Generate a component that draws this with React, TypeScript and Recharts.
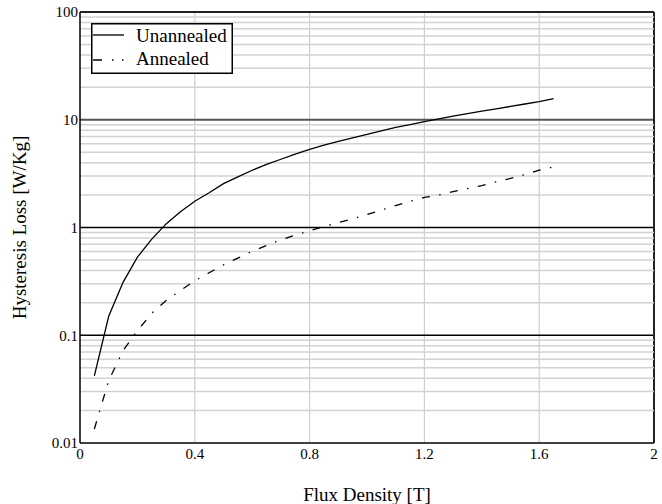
import React from 'react';
import { LineChart, Line, XAxis, YAxis, CartesianGrid, Legend, Label, ReferenceLine } from 'recharts';

// Flux density sample points [T]
const flux = [
  0.05, 0.1, 0.15, 0.2, 0.25, 0.3, 0.35, 0.4, 0.45, 0.5, 0.55, 0.6, 0.65, 0.7, 0.75, 0.8, 0.85,
  0.9, 0.95, 1.0, 1.05, 1.1, 1.15, 1.2, 1.25, 1.3, 1.35, 1.4, 1.45, 1.5, 1.55, 1.6, 1.65,
];

// Hysteresis loss [W/Kg]
const unannealed = [
  0.042, 0.15, 0.31, 0.53, 0.78, 1.08, 1.4, 1.75, 2.1, 2.55, 2.95, 3.4, 3.85, 4.3, 4.8, 5.3, 5.8,
  6.3, 6.8, 7.3, 7.9, 8.5, 9.0, 9.6, 10.2, 10.8, 11.4, 12.0, 12.6, 13.3, 14.0, 14.7, 15.7,
];
const annealed = [
  0.0135, 0.038, 0.072, 0.11, 0.16, 0.21, 0.26, 0.32, 0.38, 0.45, 0.52, 0.6, 0.68, 0.77, 0.85,
  0.93, 1.02, 1.11, 1.2, 1.32, 1.45, 1.6, 1.75, 1.9, 2.0, 2.15, 2.3, 2.45, 2.65, 2.85, 3.1, 3.4, 3.65,
];

const xTicks = [0, 0.4, 0.8, 1.2, 1.6, 2];
const yTicks = [0.01, 0.1, 1, 10, 100];
const xGrid = [0.4, 0.8, 1.2, 1.6];

// light lines at 2..9 inside every decade
const minorGrid: number[] = [];
[0.01, 0.1, 1, 10].forEach((d) => {
  for (let m = 2; m <= 9; m++) minorGrid.push(Number((d * m).toPrecision(3)));
});

const data = flux.map((b, i) => ({ flux: b, unannealed: unannealed[i], annealed: annealed[i] }));

const serif = '"Liberation Serif", "Times New Roman", serif';
const dashDot = '8 9.5 1.5 9.5';

const LegendBox = () => (
  <svg width={142} height={51} style={{ display: 'block' }}>
    <rect x={0.75} y={0.75} width={140.5} height={49.5} fill="#fff" stroke="#000" strokeWidth={1.5} />
    <line x1={2} y1={12} x2={33} y2={12} stroke="#000" strokeWidth={1.3} />
    <text x={45} y={18.5} fontSize={19} fill="#000">Unannealed</text>
    <line x1={2} y1={37} x2={33} y2={37} stroke="#000" strokeWidth={1.3} strokeDasharray="9 10 1.5 8.5 1.5 10" />
    <text x={45} y={42} fontSize={19} fill="#000">Annealed</text>
  </svg>
);

export default function App() {
  return (
    <div className="loss-chart" style={{ position: 'absolute', left: 0, top: 0, background: '#fff', fontFamily: serif }}>
      <style>{`.loss-chart svg text { font-family: ${serif}; }`}</style>
      <LineChart width={662} height={504} data={data} margin={{ top: 12, right: 8, left: 10, bottom: 31 }}>
        <CartesianGrid stroke="#cfcfcf" strokeWidth={1.2} horizontal={false} verticalValues={xGrid} />
        {minorGrid.map((v) => (
          <ReferenceLine key={v} y={v} stroke="#d2d2d2" strokeWidth={1.5} />
        ))}
        <CartesianGrid stroke="#000" strokeWidth={1.3} vertical={false} horizontalValues={[0.1, 1]} />
        <CartesianGrid stroke="#555" strokeWidth={2} vertical={false} horizontalValues={[10]} />
        <CartesianGrid stroke="#222" strokeWidth={2} horizontalValues={[100]} verticalValues={[2]} />
        <XAxis
          dataKey="flux"
          type="number"
          domain={[0, 2]}
          ticks={xTicks}
          tickSize={0}
          tickMargin={5}
          height={30}
          axisLine={{ stroke: '#000', strokeWidth: 1.5 }}
          tick={{ fill: '#000', fontSize: 15 }}
        >
          <Label value="Flux Density [T]" position="bottom" offset={15} fill="#000" fontSize={19} />
        </XAxis>
        <YAxis
          scale="log"
          domain={[0.01, 100]}
          allowDataOverflow
          ticks={yTicks}
          width={70}
          tickSize={0}
          tickMargin={2}
          axisLine={{ stroke: '#000', strokeWidth: 1.5 }}
          tick={{ fill: '#000', fontSize: 15 }}
        >
          <Label
            value="Hysteresis Loss [W/Kg]"
            angle={-90}
            position="insideLeft"
            offset={9}
            fill="#000"
            fontSize={19}
            style={{ textAnchor: 'middle' }}
          />
        </YAxis>
        <Legend
          layout="horizontal"
          verticalAlign="middle"
          content={() => <LegendBox />}
          wrapperStyle={{ left: 91, top: 23, width: 142 }}
        />
        <Line
          dataKey="unannealed"
          stroke="#000"
          strokeWidth={1.3}
          dot={false}
          type="linear"
          isAnimationActive={false}
        />
        <Line
          dataKey="annealed"
          stroke="#000"
          strokeWidth={1.3}
          strokeDasharray={dashDot}
          dot={false}
          type="linear"
          isAnimationActive={false}
        />
      </LineChart>
    </div>
  );
}
